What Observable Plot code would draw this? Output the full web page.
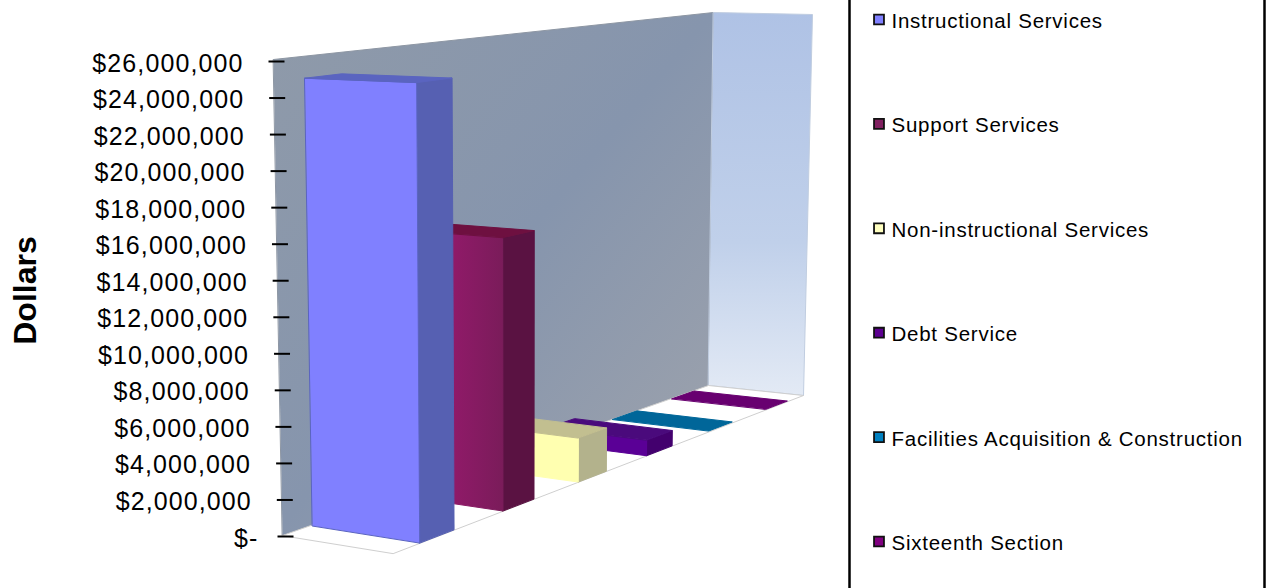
<!DOCTYPE html>
<html>
<head>
<meta charset="utf-8">
<script src="https://cdn.jsdelivr.net/npm/d3@7"></script>
<script src="https://cdn.jsdelivr.net/npm/@observablehq/plot@0.6"></script>
<style>
html,body{margin:0;padding:0;background:#fff;overflow:hidden}
svg.defs{position:absolute;width:0;height:0}
g[aria-description="ticklabels"] text{letter-spacing:1.1px}
g[aria-description="legendlabels"] text{letter-spacing:.75px}
</style>
</head>
<body>
<svg class="defs" xmlns="http://www.w3.org/2000/svg">
  <defs>
    <linearGradient id="wallGrad" x1="0" y1="0" x2="1" y2="1">
      <stop offset="0" stop-color="#8f9aa9"/>
      <stop offset=".5" stop-color="#8695ad"/>
      <stop offset="1" stop-color="#a0a4ac"/>
    </linearGradient>
    <linearGradient id="sideGrad" x1="0" y1="0" x2="0" y2="1">
      <stop offset="0" stop-color="#afc2e5"/>
      <stop offset=".6" stop-color="#c0d0ea"/>
      <stop offset="1" stop-color="#e3eaf5"/>
    </linearGradient>
    <linearGradient id="supportGrad" x1="0" y1="0" x2="1" y2="0">
      <stop offset="0" stop-color="#7e1c5c"/>
      <stop offset=".55" stop-color="#8f1a68"/>
      <stop offset="1" stop-color="#7a1c5a"/>
    </linearGradient>
  </defs>
</svg>
<div id="chart"></div>
<script>
const categories = ["Instructional Services","Support Services","Non-instructional Services","Debt Service","Facilities Acquisition & Construction","Sixteenth Section"];
const amounts = [24800000,15430000,2600000,960000,50000,30000];
const legendColors = ["#8080ff","#802060","#ffffc0","#5c0090","#0080c0","#800080"];
const frontColors = ["#8080ff","url(#supportGrad)","#ffffb0","#5a0096","#0066a0","#6a0070"];
const sideColors = ["#5660b2","#5a1242","#b3b28c","#43006e","#005580","#500055"];
const topColors = ["#5a64c0","#6e1040","#c2bf90","#4a0a7c","#006699","#680070"];
const tickValues = [0,2e6,4e6,6e6,8e6,10e6,12e6,14e6,16e6,18e6,20e6,22e6,24e6,26e6];
const tickLabels = ["$-","$2,000,000","$4,000,000","$6,000,000","$8,000,000","$10,000,000","$12,000,000","$14,000,000","$16,000,000","$18,000,000","$20,000,000","$22,000,000","$24,000,000","$26,000,000"];
const axisTitle = "Dollars";

// Camera: where the chart box's corners land on the page
const floorQuad = [[282,535],[708,385],[803,395],[393,553]];
const ceilQuad = [[273,59],[713,12],[812,14],[389,63]];
const foreshorten = 1.326, barStart = .3, barEnd = .7, depth0 = .02, depth1 = .995;
const maxValue = 26000000;

const mix=(p,q,t)=>[p[0]+(q[0]-p[0])*t,p[1]+(q[1]-p[1])*t];
const quadMap=([p0,p1,p2,p3])=>(a,b)=>mix(mix(p0,p1,a),mix(p3,p2,a),b);
const floorAt = quadMap(floorQuad), ceilAt = quadMap(ceilQuad);
const along = u => foreshorten*u/(1+(foreshorten-1)*u);
const project=(u,v,value)=>mix(floorAt(along(u),v),ceilAt(along(u),v),value/maxValue);

// page pixels -> dollar-scale units for the y channel
const yRange=[536,61];
const pixelToValue=d3.scaleLinear(yRange,[0,maxValue]);
const face=(pts,fill,stroke,sw=1)=>Plot.line(pts,{x:d=>d[0],y:d=>pixelToValue(d[1]),fill,stroke:stroke||fill,strokeWidth:sw,curve:"linear-closed"});

const marks=[];
// walls and floor
marks.push(face([project(0,0,0),project(1,0,0),project(1,0,maxValue),project(0,0,maxValue)],"url(#wallGrad)","#8d96a3"));
marks.push(face([project(1,0,0),project(1,1,0),project(1,1,maxValue),project(1,0,maxValue)],"url(#sideGrad)","#c0cde0"));
marks.push(face([project(0,0,0),project(1,0,0),project(1,1,0),project(0,1,0)],"#ffffff","#cfcfcf"));
// bars, back to front
d3.range(categories.length-1,-1,-1).forEach(i=>{
  const u0=(i+barStart)/categories.length,u1=(i+barEnd)/categories.length,v=amounts[i];
  if(v>100000){
    marks.push(face([project(u0,depth1,0),project(u1,depth1,0),project(u1,depth1,v),project(u0,depth1,v)],sideColors[i]));
    marks.push(face([project(u0,depth0,0),project(u0,depth1,0),project(u0,depth1,v),project(u0,depth0,v)],frontColors[i],i==0?"#5a64c0":null));
  }
  marks.push(face([project(u0,depth0,v),project(u1,depth0,v),project(u1,depth1,v),project(u0,depth1,v)],topColors[i]));
});
// slanted value axis along the wall's left edge
const wallX=v=>project(0,0,v)[0];
marks.push(Plot.link(tickValues,{x1:v=>wallX(v)-5,x2:v=>wallX(v)+11,y1:v=>v,y2:v=>v,stroke:"#000",strokeWidth:2}));
marks.push(Plot.text(tickValues,{x:v=>wallX(v)-30+(v===0?6:0),y:v=>v,dy:2,text:(v,i)=>tickLabels[i],textAnchor:"end",fontSize:25,fill:"#000",ariaDescription:"ticklabels"}));
marks.push(Plot.text([axisTitle],{x:()=>25,y:()=>pixelToValue(290),text:d=>d,rotate:-90,fontSize:32,fontWeight:"bold",fill:"#000"}));
// legend box and entries
const legendLeft=849,legendRight=1264,legendX=878.5,legendTop=19,legendStep=104.4;
const legendY=(d,i)=>pixelToValue(legendTop+i*legendStep);
marks.push(Plot.ruleX([legendLeft,legendRight],{x:d=>d,y1:()=>pixelToValue(0),y2:()=>pixelToValue(588),stroke:"#000",strokeWidth:2.5}));
marks.push(Plot.dot(categories,{x:()=>legendX,y:legendY,symbol:"square",r:5.6,fill:(d,i)=>legendColors[i],stroke:"#111",strokeWidth:1.8}));
marks.push(Plot.text(categories,{x:()=>legendX+12.5,y:legendY,dy:2,text:d=>d,textAnchor:"start",fontSize:20.5,fill:"#000",ariaDescription:"legendlabels"}));

const chart=Plot.plot({
  width:1268,height:588,margin:0,
  style:{fontFamily:"'Liberation Sans',Arial,sans-serif",background:"#fff"},
  x:{domain:[0,1268],range:[0,1268],axis:null},
  y:{domain:[0,maxValue],range:yRange,axis:null},
  color:{type:"identity"},
  marks
});
document.getElementById("chart").append(chart);
</script>
</body>
</html>
